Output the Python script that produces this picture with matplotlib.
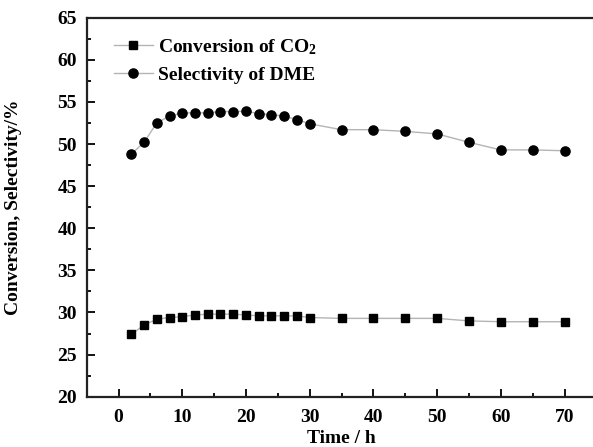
import matplotlib
matplotlib.use("Agg")
import matplotlib.pyplot as plt
from matplotlib.ticker import MultipleLocator

# time on stream (h)
time_h = [2, 4, 6, 8, 10, 12, 14, 16, 18, 20, 22, 24, 26, 28, 30,
          35, 40, 45, 50, 55, 60, 65, 70]

# CO2 conversion (%)
conversion = [27.4, 28.5, 29.2, 29.4, 29.5, 29.7, 29.8, 29.8, 29.8, 29.7,
              29.6, 29.6, 29.6, 29.6, 29.4, 29.3, 29.3, 29.3, 29.3, 29.0,
              28.9, 28.9, 28.9]

# DME selectivity (%)
selectivity = [48.8, 50.2, 52.5, 53.3, 53.7, 53.7, 53.7, 53.85, 53.85, 53.9,
               53.6, 53.5, 53.3, 52.9, 52.4, 51.7, 51.7, 51.5, 51.2, 50.2,
               49.3, 49.3, 49.2]

plt.rcParams['font.family'] = ['Liberation Serif', 'DejaVu Serif']
plt.rcParams['font.weight'] = 'bold'
plt.rcParams['mathtext.fontset'] = 'custom'
plt.rcParams['mathtext.rm'] = 'Liberation Serif:bold'
plt.rcParams['mathtext.bf'] = 'Liberation Serif:bold'
plt.rcParams['mathtext.default'] = 'bf'

fig = plt.figure(figsize=(5.93, 4.47), dpi=100)
ax = fig.add_axes([0.1462, 0.1125, 0.8595, 0.848])

ax.plot(time_h, conversion, '-', color='#b4b4b4', lw=1.0,
        marker='s', ms=6.0, mfc='black', mec='black',
        label='Conversion of CO$_2$')
ax.plot(time_h, selectivity, '-', color='#b4b4b4', lw=1.0,
        marker='o', ms=6.6, mfc='black', mec='black',
        label='Selectivity of DME')

ax.set_xlim(-5, 75)
ax.set_ylim(20, 65)
ax.xaxis.set_major_locator(MultipleLocator(10))
ax.xaxis.set_minor_locator(MultipleLocator(5))
ax.yaxis.set_major_locator(MultipleLocator(5))
ax.yaxis.set_minor_locator(MultipleLocator(2.5))
ax.tick_params(which='both', direction='in', width=1.3, labelsize=14,
               top=False, right=False)
ax.tick_params(which='major', length=6, pad=7)
ax.tick_params(which='minor', length=3)
ax.tick_params(axis='x', pad=9)
for lbl in ax.get_xticklabels() + ax.get_yticklabels():
    lbl.set_fontweight('bold')

for side in ['left', 'bottom', 'top', 'right']:
    ax.spines[side].set_linewidth(1.6)
    ax.spines[side].set_color('#222222')

ax.set_xlabel('Time / h', fontsize=14, fontweight='bold', labelpad=3)
ax.set_ylabel('Conversion, Selectivity/%', fontsize=14, fontweight='bold')
ax.yaxis.set_label_coords(-0.127, 0.5)

ax.legend(loc='upper left', bbox_to_anchor=(0.03, 0.98), frameon=False,
          handlelength=2.0, handletextpad=0.3,
          labelspacing=0.5, borderaxespad=0.2,
          prop={'weight': 'bold', 'size': 14})

fig.savefig('out.png', dpi=100)
